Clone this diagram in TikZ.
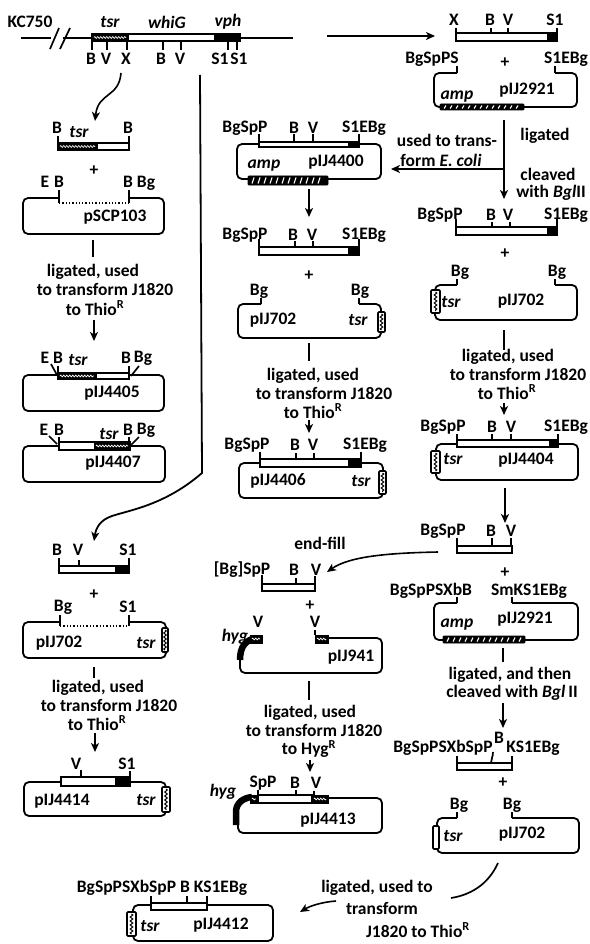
\documentclass[tikz,border=0pt]{standalone}
\usepackage{fontspec}
\setmainfont{Carlito}
\usetikzlibrary{arrows.meta,calc,decorations.pathmorphing}
\tikzset{
  lbl/.style={inner sep=0pt,font=\fontsize{17.5}{19}\selectfont\bfseries},
  gene/.style={inner sep=0pt,font=\fontsize{17.5}{19}\selectfont\bfseries\itshape},
  ln/.style={line width=1.7pt},
  ring/.style={line width=1.8pt,rounded corners=5pt},
  fragbar/.style={line width=1.7pt,fill=white},
  solid seg/.style={fill=black,draw=black,line width=0.8pt},
  gapline/.style={line width=1.3pt,dotted},
  arr/.style={line width=1.6pt,-{Stealth[length=9pt,width=8pt,inset=2.5pt]}},
  squig/.style={white,line width=0.7pt,decorate,decoration={zigzag,segment length=3pt,amplitude=0.9pt}},
}
% plasmid outline, open in the top side between the last two x values
\newcommand{\plasmid}[6]{\draw[ring] (#5,#2) -- (#1,#2) -- (#1,#4) -- (#3,#4) -- (#3,#2) -- (#6,#2);}
\newcommand{\fragbox}[4]{\draw[fragbar] (#1,#2) rectangle (#3,#4);}
\newcommand{\blackseg}[4]{\fill[solid seg] (#1,#2) rectangle (#3,#4);}
\newcommand{\tsrbar}[4]{\fill[solid seg] (#1,#2) rectangle (#3,#4);
  \draw[squig] ($(#1,#2)!0.5!(#1,#4)+(2,0)$) -- ($(#3,#2)!0.5!(#3,#4)-(2,0)$);}
\newcommand{\tsrblock}[4]{\draw[line width=1.6pt,fill=white,rounded corners=1pt] (#1,#2) rectangle (#3,#4);
  \draw[line width=1pt,decorate,decoration={zigzag,segment length=4pt,amplitude=1.3pt}] ($(#1,#2)!0.5!(#3,#2)+(0,2)$) -- ($(#1,#4)!0.5!(#3,#4)-(0,2)$);}
\newcommand{\ampbar}[5]{\fill[solid seg,rounded corners=1pt] (#1,#2) rectangle (#3,#4);
  \foreach \hx in {#5} \draw[white,line width=1.1pt] (\hx,#4-1.5) -- (\hx+2,#2+1.5);}
\begin{document}
\begin{tikzpicture}[x=1pt,y=-1pt]
  \useasboundingbox (0,0) rectangle (589,944);
  \fill[white] (0,0) rectangle (589,944);

  % KC750 map
  \draw[ln] (21,38) -- (51,38) (63,38) -- (293,38);
  \draw[ln] (50,49) -- (59,28) (60,49) -- (70,28);
  \fragbox{92}{34}{240}{41}
  \tsrbar{92}{34}{128}{41}
  \blackseg{214}{34}{240}{41}
  \foreach \tx in {92,107,127,163,181,228,237} \draw[ln] (\tx,41) -- (\tx,50);
  \foreach \nm/\xx/\yy/\tt in {kc/30/22/KC750,mb/91/59/B,mv/106/59/V,mx/126/59/X,mbb/161/59/B,mvv/180/59/V,msa/220/59/S1,msb/239/59/S1}
    \node[lbl] (\nm) at (\xx,\yy) {\tt};
  \foreach \nm/\xx/\tt in {gtsr/110/tsr,gwhi/167/whiG,gvph/228/vph}
    \node[gene] (\nm) at (\xx,22) {\tt};

  % connectors, plain bars and straight arrows
  \foreach \nm/\xa/\ya/\xb/\yb in {a1/327/36/435/36,a2/504/120/504/199,a3/504/169/391/169,a4/309/189/309/217,a5/94/320/94/341,a6/309/420/309/433,a7/504/403/504/415,a8/505/488/505/523,a9/503/703/503/728,a10/95/733/95/752,a11/310/760/310/772}{
    \coordinate (\nm s) at (\xa,\ya);
    \coordinate (\nm e) at (\xb,\yb);
    \draw[arr] (\nm s) -- (\nm e);
  }
  \foreach \nm/\xa/\ya/\yb in {b1/93/240/257,b2/309/343/361,b3/504/330/350,b4/94/667/678,b5/309/681/700,b6/503/648/662}{
    \coordinate (\nm s) at (\xa,\ya);
    \coordinate (\nm e) at (\xa,\yb);
    \draw[ln] (\nm s) -- (\nm e);
  }
  % curved arrows
  \coordinate (c1s) at (121,73); \coordinate (c1e) at (95,121);
  \draw[arr] (c1s) .. controls (119,98) and (98,92) .. (c1e);
  \coordinate (c2s) at (200,75); \coordinate (c2m) at (202,473); \coordinate (c2e) at (94,541);
  \draw[line width=1.8pt,-{Stealth[length=9pt,width=8pt,inset=2.5pt]}] (c2s) -- (c2m) .. controls (165,505) and (130,510) .. (112,516) .. controls (100,520) and (96,528) .. (c2e);
  \coordinate (c3s) at (438,552); \coordinate (c3e) at (327,572);
  \draw[arr] (c3s) .. controls (390,553) and (350,556) .. (c3e);
  \coordinate (c4s) at (498,863); \coordinate (c4e) at (451,898);
  \draw[ln] (c4s) .. controls (488,885) and (470,895) .. (c4e);
  \coordinate (c5s) at (336,901); \coordinate (c5e) at (300,912);
  \draw[arr] (c5s) .. controls (322,902) and (310,906) .. (c5e);

  % left column: tsr fragment + pSCP103
  \fragbox{58}{143}{129}{150}
  \tsrbar{58}{143}{97}{150}
  \foreach \tx in {58,129} \draw[ln] (\tx,136) -- (\tx,143);
  \plasmid{23}{198}{164}{234}{59}{129}
  \draw[gapline] (59,203) -- (129,203);
  \foreach \tx in {59,129} \draw[ln] (\tx,190) -- (\tx,203);

  % pIJ4405
  \plasmid{23}{375}{164}{411}{58}{129}
  \fragbox{58}{373}{129}{379}
  \tsrbar{58}{373}{96}{379}
  \draw[ln] (58,366) -- (58,373) (129,366) -- (129,373);
  \draw[ln] (51,364) -- (57,375) (139,366) -- (131,376);

  % pIJ4407
  \plasmid{23}{446}{165}{482}{59}{130}
  \fragbox{59}{442}{130}{450}
  \tsrbar{94}{442}{130}{450}
  \draw[ln] (59,437) -- (59,442) (129,437) -- (129,442);
  \draw[ln] (49,436) -- (57,444) (139,437) -- (131,445);

  % fragment + pIJ702, left
  \fragbox{59}{566}{129}{573}
  \blackseg{115}{566}{129}{573}
  \draw[ln] (59,558) -- (59,566) (79,560) -- (79,566) (129,558) -- (129,566);
  \plasmid{23}{622}{166}{658}{60}{129}
  \draw[gapline] (60,626) -- (129,626);
  \foreach \tx in {60,129} \draw[ln] (\tx,615) -- (\tx,626);
  \tsrblock{162}{628}{168}{652}

  % pIJ4414
  \plasmid{24}{782}{166}{816}{62}{128}
  \fragbox{61}{777}{130}{786}
  \blackseg{115}{777}{130}{786}
  \draw[ln] (81,770) -- (81,777) (130,771) -- (130,777);
  \tsrblock{162}{787}{170}{812}

  % middle column: pIJ4400
  \plasmid{237}{144}{381}{179}{259}{359}
  \fragbox{259}{142}{359}{147}
  \blackseg{348}{142}{359}{147}
  \foreach \tx in {259,294,313,359} \draw[ln] (\tx,134) -- (\tx,142);
  \ampbar{248}{176}{328}{185}{252,258,...,322}

  % fragment + pIJ702, middle
  \fragbox{259}{247}{359}{255}
  \blackseg{348}{247}{359}{255}
  \foreach \tx in {259,359} \draw[ln] (\tx,239) -- (\tx,247);
  \foreach \tx in {295,313} \draw[ln] (\tx,241) -- (\tx,247);
  \plasmid{238}{304}{381}{338}{261}{359}
  \draw[ln] (261,298) -- (261,304) (359,298) -- (359,304);
  \tsrblock{378}{312}{385}{332}

  % pIJ4406
  \plasmid{239}{463}{383}{498}{261}{361}
  \fragbox{260}{459}{361}{467}
  \blackseg{348}{459}{361}{467}
  \draw[ln] (260,452) -- (260,459) (296,453) -- (296,459) (314,453) -- (314,459) (361,452) -- (361,459);
  \tsrblock{379}{471}{386}{494}

  % end-filled fragment + pIJ941
  \fragbox{262}{584}{315}{591}
  \draw[ln] (262,575) -- (262,584) (296,578) -- (296,584) (315,576) -- (315,584);
  \draw[ring] (328,638) -- (382,638) -- (382,673) -- (240,673) -- (240,655);
  \draw[line width=6.5pt] (240,660) .. controls (240,646) and (246,640) .. (256,638);
  \tsrbar{250}{635}{262}{643}
  \tsrbar{315}{635}{328}{643}
  \draw[ln] (315,630) -- (315,635);

  % pIJ4413
  \draw[ring] (250,798) -- (238,798) -- (238,833) -- (382,833) -- (382,798) -- (320,798);
  \draw[line width=6.5pt] (236,825) -- (236,812) .. controls (236,803) and (243,798) .. (252,797);
  \fragbox{258}{795}{312}{803}
  \tsrbar{250}{795}{258}{803}
  \tsrbar{312}{795}{328}{803}
  \draw[ln] (258,790) -- (258,795) (296,790) -- (296,795) (314,791) -- (314,795);

  % right column: X B V S1 fragment + pIJ2921
  \fragbox{456}{33}{557}{41}
  \blackseg{547}{33}{557}{41}
  \foreach \tx in {456,491,508,557} \draw[ln] (\tx,28) -- (\tx,33);
  \plasmid{434}{73}{577}{107}{457}{555}
  \draw[ln] (457,66) -- (457,73) (555,66) -- (555,73);
  \ampbar{440}{104}{524}{110}{444,450,...,518}

  % fragment + pIJ702, right
  \fragbox{456}{227}{557}{235}
  \blackseg{547}{227}{557}{235}
  \foreach \tx in {456,557} \draw[ln] (\tx,219) -- (\tx,227);
  \foreach \tx in {492,510} \draw[ln] (\tx,222) -- (\tx,227);
  \plasmid{435}{285}{577}{320}{457}{555}
  \draw[ln] (457,279) -- (457,285) (555,279) -- (555,285);
  \tsrblock{431}{290}{440}{313}

  % pIJ4404
  \plasmid{436}{444}{578}{480}{457}{558}
  \fragbox{457}{440}{558}{447}
  \blackseg{549}{440}{558}{447}
  \foreach \tx in {457,492,511,558} \draw[ln] (\tx,434) -- (\tx,440);
  \tsrblock{431}{451}{440}{473}

  % short fragment + pIJ2921
  \fragbox{457}{546}{512}{553}
  \foreach \tx in {457,492,511} \draw[ln] (\tx,538) -- (\tx,546);
  \plasmid{434}{603}{578}{640}{457}{512}
  \draw[ln] (457,597) -- (457,603) (512,597) -- (512,603);
  \ampbar{443}{636}{525}{643}{447,453,...,519}

  % linker fragment + pIJ702, right
  \fragbox{457}{763}{512}{770}
  \draw[ln] (457,756) -- (457,763) (512,756) -- (512,763);
  \draw[ln] (491,763) .. controls (491,759) and (493,757) .. (493,752);
  \plasmid{437}{818}{579}{853}{457}{512}
  \draw[ln] (457,812) -- (457,818) (512,812) -- (512,818);
  \draw[line width=1.6pt,fill=white,rounded corners=1pt] (433,826) rectangle (439,849);

  % pIJ4412
  \plasmid{133}{905}{273}{941}{151}{207}
  \fragbox{151}{903}{207}{910}
  \foreach \tx in {151,187,207} \draw[ln] (\tx,896) -- (\tx,903);
  \tsrblock{127}{912}{136}{936}

  % labels
  \foreach \nm/\xx/\yy/\tt in {
    la/57/128/B,lb/128/128/B,
    lc/45/182/E,ld/59/182/B,le/128/182/B,lf/146/183/Bg,lg/115/217/pSCP103,
    lh/45/358/E,li/58/358/B,lj/126/358/B,lk/143/358/Bg,ll/112/393/pIJ4405,
    lm/44/430/E,ln1/59/430/B,lo/128/430/B,lp/146/430/Bg,lq/113/463/pIJ4407,
    lr/57/550/B,ls/78/550/V,lt/128/550/S1,
    lu/63/607/Bg,lv/128/607/S1,lw/59/643/pIJ702,
    lx/76/764/V,ly/127/764/S1,lz/62/801/pIJ4414,
    ma/245/128/BgSpP,mc/294/128/B,md/313/128/V,me/364/128/S1EBg,mf/336/162/pIJ4400,
    mg/245/235/BgSpP,mh/293/235/B,mi/312/235/V,mj/364/235/S1EBg,
    mk/259/291/Bg,ml/360/291/Bg,mm/273/320/pIJ702,
    mn/247/445/BgSpP,mo/295/445/B,mp/313/445/V,mq/365/445/S1EBg,mr/278/481/pIJ4406,
    ms/320/543/end-fill,mt/242/570/{[Bg]SpP},mu/294/570/B,mw/316/570/V,
    my/258/622/V,mz/315/622/V,na/351/657/pIJ941,
    nb/263/783/SpP,nc/295/783/B,nd/316/783/V,ne/328/820/pIJ4413,
    ra/454/20/X,rb/490/20/B,rc/508/20/V,rd/555/20/S1,
    re/432/59/BgSpPS,rf/566/59/S1EBg,rg/527/90/pIJ2921,
    rh/447/140/used to trans-,rj/545/136/ligated,rk/548/174/cleaved,
    rl/440/215/BgSpP,rm/491/215/B,rn/508/215/V,ro/566/215/S1EBg,
    rp/460/272/Bg,rq/557/272/Bg,rr/521/301/pIJ702,
    rs/443/427/BgSpP,rt/492/427/B,ru/511/427/V,rv/566/427/S1EBg,rw/526/460/pIJ4404,
    rx/443/531/BgSpP,ry/491/531/B,rz/511/531/V,
    sa/431/591/BgSpPSXbB,sb/529/591/SmKS1EBg,sc/525/619/pIJ2921,
    sd/510/675/{ligated, and then},
    se/443/748/BgSpPSXbSpP,sf/499/738/B,sg/533/748/KS1EBg,
    sh/459/805/Bg,si/512/805/Bg,sj/522/834/pIJ702,
    sk/377/888/{ligated, used to},sl/382/908/transform,
    sm/162/888/BgSpPSXbSpP B KS1EBg,sn/221/925/pIJ4412,
    ta/93/272/{ligated, used},tb/105/289/to transform J1820,
    tc/98/688/{ligated, used},td/109/705/to transform J1820,
    te/313/376/{ligated, used},tf/324/393/to transform J1820,
    tg/310/713/{ligated, used},th/314/730/to transform J1820,
    ti/508/357/{ligated, used},tj/518/374/to transform J1820}
    \node[lbl] (\nm) at (\xx,\yy) {\tt};
  \foreach \nm/\xx/\yy/\tt in {ua/95/308/to Thio,ub/97/723/to Thio,uc/313/411/to Thio,ud/507/392/to Thio,ue/418/930/J1820 to Thio,uf/309/749/to Hyg}
    \node[lbl] (\nm) at (\xx,\yy) {\tt\textsuperscript{R}};
  \node[lbl] (ug) at (441,160) {form \textit{E. coli}};
  \node[lbl] (uh) at (551,193) {with \textit{Bgl}II};
  \node[lbl] (ui) at (512,693) {cleaved with \textit{Bgl}\,II};
  \foreach \nm/\xx/\yy in {ga/79/132,gb/78/360,gc/109/434,gd/146/643,ge/146/800,gf/358/320,gg/361/481,gh/453/459,gi/451/302,gj/453/836,gk/150/926}
    \node[gene] (\nm) at (\xx,\yy) {tsr};
  \foreach \nm/\xx/\yy in {ha/264/166,hb/457/97,hc/457/625}
    \node[gene] (\nm) at (\xx,\yy) {amp};
  \foreach \nm/\xx/\yy in {ia/235/637,ib/223/792}
    \node[gene] (\nm) at (\xx,\yy) {hyg};
  \foreach \nm/\xx/\yy in {pa/94/171,pb/505/63,pc/505/254,pd/94/595,pe/309/276,pf/310/606,pg/505/573,ph/503/783}
    \node[lbl] (\nm) at (\xx,\yy) {+};
\end{tikzpicture}
\end{document}
